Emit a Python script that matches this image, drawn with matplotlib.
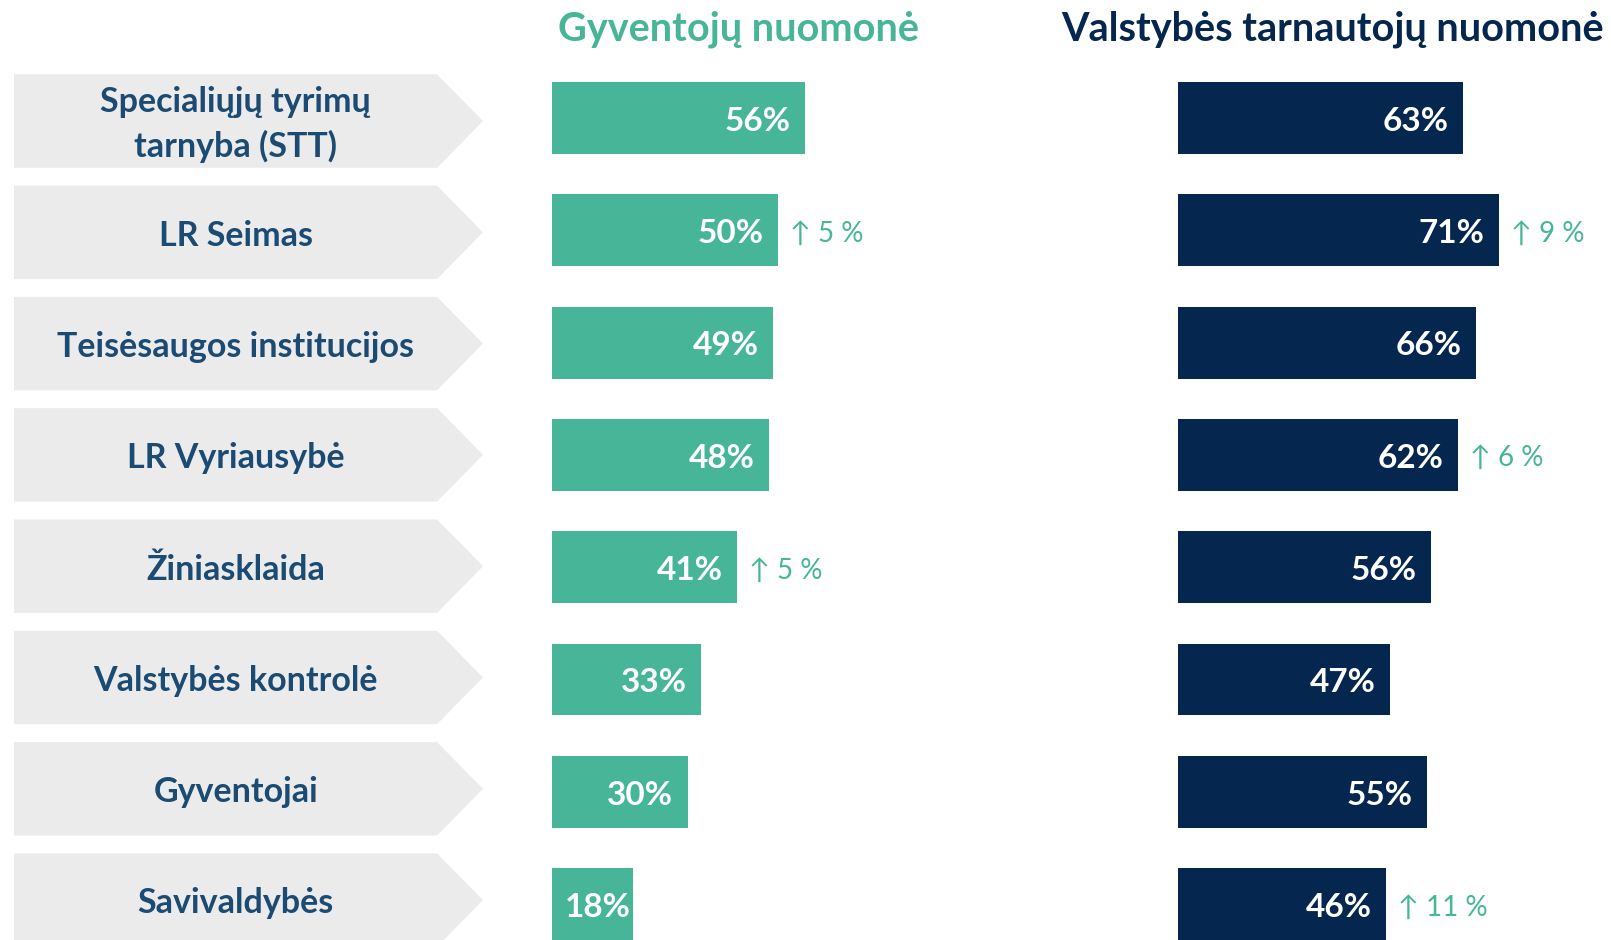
import matplotlib
matplotlib.use("Agg")
from matplotlib import pyplot as plt
from matplotlib.patches import Polygon

plt.rcParams['font.family'] = ['Lato', 'Open Sans', 'DejaVu Sans']

# data
institutions = ["Specialiųjų tyrimų\ntarnyba (STT)", "LR Seimas", "Teisėsaugos institucijos",
                "LR Vyriausybė", "Žiniasklaida", "Valstybės kontrolė", "Gyventojai", "Savivaldybės"]
residents = [56, 50, 49, 48, 41, 33, 30, 18]
servants = [63, 71, 66, 62, 56, 47, 55, 46]
residents_change = [None, 5, None, None, 5, None, None, None]
servants_change = [None, 9, None, 6, None, None, None, 11]

GREEN = "#47B598"
NAVY = "#05264E"
LABEL_BLUE = "#1B4A72"
GREY = "#EBEBEB"

W, H = 1611, 940
fig = plt.figure(figsize=(W / 100, H / 100), dpi=100)
n = len(institutions)


def add_axes_px(x0, x1, first_row, row_step):
    top_px = first_row - 0.5 * row_step
    bot_px = first_row + (n - 0.5) * row_step
    ax = fig.add_axes([x0 / W, (H - bot_px) / H, (x1 - x0) / W, (bot_px - top_px) / H])
    ax.set_ylim(n - 0.5, -0.5)
    ax.axis("off")
    return ax


# left column: grey arrow shapes with names
ax_lab = add_axes_px(14, 483, 121, 111.3)
ax_lab.set_xlim(0, 1)
half = 0.42
shoulder = 0.902
for i, name in enumerate(institutions):
    pts = [(0, i - half), (shoulder, i - half), (1, i), (shoulder, i + half), (0, i + half)]
    ax_lab.add_patch(Polygon(pts, closed=True, facecolor=GREY, edgecolor="none"))
    ax_lab.text(0.473, i + 0.03, name, ha="center", va="center", fontsize=24.5, fontweight="bold",
                color=LABEL_BLUE, linespacing=1.45)


def bar_panel(x0, values, changes, color, title, title_color, title_x):
    ax = add_axes_px(x0, x0 + 4.52 * 80, 118, 112.3)
    ax.set_xlim(0, 80)
    ax.barh(range(n), values, height=0.64, color=color, edgecolor="none")
    for i, v in enumerate(values):
        # short bars: the label hugs the bar end so it still fits
        pad = 3.2 if v > 25 else 0.5
        ax.text(v - pad, i + 0.03, f"{v}%", ha="right", va="center", fontsize=24,
                fontweight="bold", color="white")
        if changes[i] is not None:
            ax.text(v + 2.6, i + 0.03, f"↑ {changes[i]} %", ha="left", va="center", fontsize=20,
                    color=GREEN, clip_on=False)
    fig.text(title_x / W, 1 - 29 / H, title, ha="center", va="center", fontsize=28.5,
             fontweight="bold", color=title_color)
    return ax


bar_panel(552, residents, residents_change, GREEN, "Gyventojų nuomonė", GREEN, 738)
bar_panel(1178, servants, servants_change, NAVY, "Valstybės tarnautojų nuomonė", NAVY, 1333)

fig.savefig("out.png", dpi=100)
